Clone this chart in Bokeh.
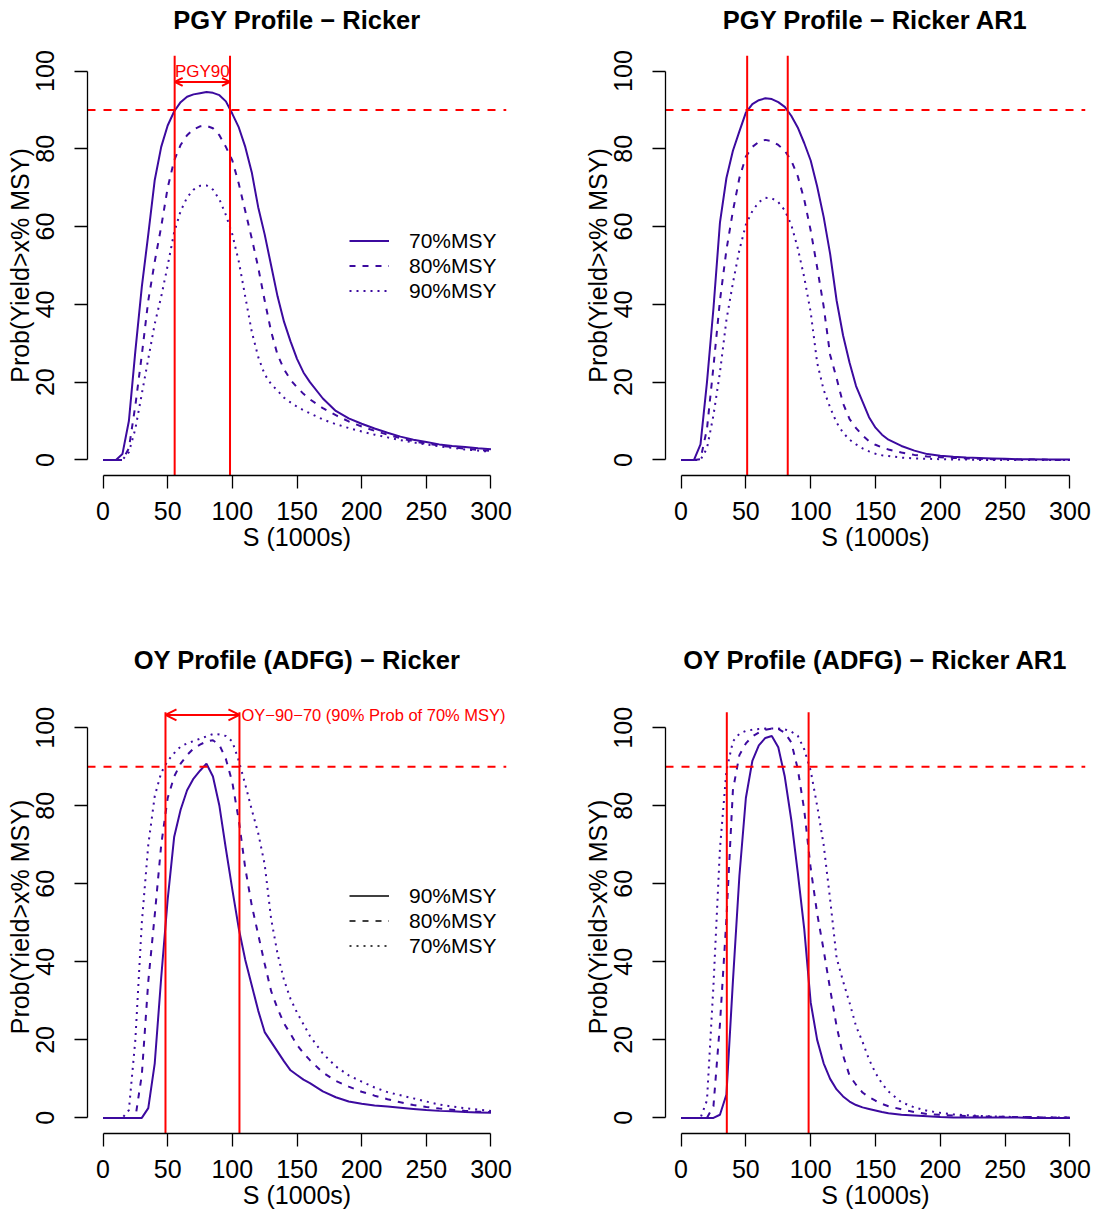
from bokeh.plotting import figure
from bokeh.models import Range1d, Label, Arrow, OpenHead, Legend, LegendItem, FixedTicker, Title
from bokeh.layouts import gridplot
from bokeh.embed import file_html
from bokeh.resources import INLINE

# ---------------- data ----------------
S_grid = [0, 5, 10, 15, 20, 25, 30, 35, 40, 45, 50, 55, 60, 65, 70, 75, 80, 85, 90, 95,
          100, 105, 110, 115, 120, 125, 130, 135, 140, 145, 150, 155, 160,
          170, 180, 190, 200, 210, 220, 230, 240, 250, 260, 270, 280, 290, 300]
x_ticks = [0, 50, 100, 150, 200, 250, 300]
y_ticks = [0, 20, 40, 60, 80, 100]

# PGY Profile - Ricker
pgy_ricker_70 = [0, 0, 0, 1.5, 10, 28, 44.5, 58, 72, 80.5, 86, 89.6, 92, 93.4, 94, 94.3, 94.6, 94.4, 93.8, 92.2,
                 89, 85.5, 80.5, 74, 65, 58, 50, 42, 35.5, 30.5, 26, 22.5, 20,
                 15.8, 12.6, 10.7, 9.3, 8.1, 7, 6, 5.2, 4.6, 4, 3.6, 3.3, 3, 2.75]
pgy_ricker_80 = [0, 0, 0, 0, 3, 14, 27, 41, 51, 60, 70, 77, 81, 83.5, 85, 85.8, 85.9, 85.3, 83.5, 80.5,
                 77, 71, 64, 57, 49.5, 41, 33, 27, 23.3, 20.6, 18.7, 17, 15.6,
                 13.3, 11.5, 9.9, 8.6, 7.5, 6.5, 5.6, 4.8, 4.2, 3.7, 3.3, 2.9, 2.6, 2.3]
pgy_ricker_90 = [0, 0, 0, 0, 2, 8, 17, 26, 35, 42, 50, 58.5, 64, 67.5, 69.5, 70.5, 70.6, 69.5, 67, 63,
                 58, 51, 42, 33, 26.5, 22, 19.5, 17.8, 16, 14.8, 13.7, 12.8, 12,
                 10.4, 9.2, 8.2, 7.3, 6.5, 5.8, 5.1, 4.5, 4, 3.5, 3.1, 2.7, 2.4, 2.1]

# PGY Profile - Ricker AR1
pgy_ar1_70 = [0, 0, 0, 4, 20, 39, 61, 72.5, 79.5, 84.5, 89.3, 91.5, 92.5, 93, 92.8, 92, 90.8, 88.5, 85.5, 81.5,
              77, 70.3, 62.5, 53, 41, 32, 25, 19, 15, 11, 8.3, 6.5, 5.2,
              3.6, 2.4, 1.5, 1.1, 0.8, 0.6, 0.5, 0.4, 0.3, 0.2, 0.2, 0.1, 0.1, 0.1]
pgy_ar1_80 = [0, 0, 0, 0.2, 8, 24, 41, 54, 64, 72.5, 78, 80.5, 81.8, 82.3, 82, 81, 79.5, 77, 73, 67,
              59, 49.5, 39.5, 27, 21, 14.5, 10.5, 8.2, 6.3, 4.8, 3.9, 3.2, 2.7,
              1.9, 1.3, 0.9, 0.7, 0.5, 0.4, 0.3, 0.2, 0.2, 0.1, 0.1, 0.1, 0, 0]
pgy_ar1_90 = [0, 0, 0, 0, 3, 11.5, 22.5, 36, 45.5, 54, 60.5, 64, 66.3, 67.4, 67.3, 66.3, 64.2, 60.5, 54.5, 47,
              38, 25, 18, 13.5, 9.6, 7, 5.2, 4, 3, 2.2, 1.6, 1.2, 1,
              0.6, 0.4, 0.3, 0.2, 0.1, 0.1, 0, 0, 0, 0, 0, 0, 0, 0]

# OY Profile (ADFG) - Ricker
oy_ricker_90 = [0, 0, 0, 0, 0, 0, 0, 2.5, 14, 36, 56, 72, 79, 84, 87, 89, 90.8, 87.5, 80, 69,
                58.5, 48.5, 40.5, 34, 27.5, 22, 19.5, 17, 14.5, 12.2, 11, 9.8, 8.9,
                6.8, 5.3, 4.2, 3.6, 3.2, 2.9, 2.6, 2.3, 2, 1.8, 1.7, 1.5, 1.4, 1.3]
oy_ricker_80 = [0, 0, 0, 0, 0, 0, 11, 35, 52, 70, 82, 87.5, 90.8, 93, 94.7, 95.7, 96.5, 96.8, 95.6, 92,
                86, 76.3, 64, 54.5, 47, 39.5, 32.5, 28, 24.2, 21.5, 18.7, 16.6, 14.8,
                11.6, 9.5, 8, 6.7, 5.7, 4.8, 4, 3.3, 2.8, 2.4, 2.1, 1.8, 1.6, 1.5]
oy_ricker_70 = [0, 0, 0, 0, 2, 20, 50, 70, 82.5, 88.5, 91.5, 93.5, 95.2, 96, 96.6, 97.2, 97.8, 98.4, 98.3, 97.9,
                96.5, 91.5, 85.5, 79, 73, 65, 51, 42, 35.3, 30.5, 27, 24, 21,
                16.5, 13.2, 10.9, 9.3, 7.8, 6.6, 5.8, 5, 4.2, 3.4, 2.9, 2.5, 2.1, 1.8]

# OY Profile (ADFG) - Ricker AR1
oy_ar1_90 = [0, 0, 0, 0, 0, 0, 0.8, 6, 35, 62, 82, 91.5, 95.5, 97.4, 97.9, 95, 87.5, 76.5, 63, 48.5,
             29.6, 20, 14, 10, 7.3, 5.5, 4.2, 3.3, 2.7, 2.3, 1.9, 1.5, 1.2,
             0.8, 0.6, 0.4, 0.2, 0.1, 0.1, 0.1, 0.1, 0.1, 0.1, 0, 0, 0, 0]
oy_ar1_80 = [0, 0, 0, 0, 0, 3, 24, 51, 84, 93, 96, 97.8, 98.8, 99.5, 99.8, 99.7, 98.7, 96.3, 89.5, 79,
             64, 52.4, 43, 33, 23.5, 16, 10.8, 8.5, 6.5, 5.3, 4.4, 3.6, 3,
             2.2, 1.5, 1, 0.8, 0.6, 0.5, 0.4, 0.3, 0.3, 0.2, 0.2, 0.1, 0.1, 0.1]
oy_ar1_70 = [0, 0, 0, 0, 4.5, 34, 69, 89, 96.5, 98.5, 99.2, 99.5, 99.7, 99.8, 99.8, 99.8, 99.6, 99, 98, 94.5,
             89, 80, 70, 56, 41, 35, 29.5, 23.5, 19.5, 15, 11.5, 8.8, 6.8,
             4, 2.7, 1.8, 1.3, 0.9, 0.7, 0.5, 0.4, 0.3, 0.2, 0.2, 0.1, 0.1, 0.1]

# reference lines (S values in 1000s) and probability threshold
pgy_ricker_bounds = [55.4, 98.2]
pgy_ar1_bounds = [51.0, 82.3]
oy_ricker_bounds = [48.3, 105.5]
oy_ar1_bounds = [35.3, 98.4]
prob_threshold = 90

pgy_labels = ["70%MSY", "80%MSY", "90%MSY"]
oy_labels = ["90%MSY", "80%MSY", "70%MSY"]

# ---------------- styling ----------------
FONT = "Liberation Sans"
PURPLE = "#3C0A9F"
RED = "#FF0000"
DASHES = ["solid", "6 7", "2 5"]
X_LO, X_HI = -12, 312      # plot-region limits of the original device
Y_LO, Y_HI = -4, 104


def make_panel(title, series, bounds, w, h, bl, br, bt, bb, gap, y_top=Y_HI):
    p = figure(width=w, height=h, x_range=Range1d(X_LO, X_HI), y_range=Range1d(Y_LO, y_top),
               output_backend="svg", toolbar_location=None, title=None,
               min_border_left=bl, min_border_right=br, min_border_top=bt, min_border_bottom=bb,
               x_axis_label="S (1000s)", y_axis_label="Prob(Yield>x% MSY)")
    p.background_fill_color = "white"
    p.border_fill_color = "white"
    p.outline_line_color = None
    p.xgrid.visible = False
    p.ygrid.visible = False

    # spacer (closest to frame) then the real title
    p.add_layout(Title(text=" ", text_font_size="2px", standoff=gap), "above")
    p.add_layout(Title(text=title, align="center", text_font=FONT, text_font_size="25.5px",
                       text_font_style="bold", text_color="black", standoff=0), "above")

    for ax, ticks, bnd in ((p.xaxis[0], x_ticks, (0, 300)), (p.yaxis[0], y_ticks, (0, 100))):
        ax.ticker = FixedTicker(ticks=ticks)
        ax.bounds = bnd
        ax.axis_line_color = "black"
        ax.axis_line_width = 1.3
        ax.major_tick_line_color = "black"
        ax.major_tick_line_width = 1.3
        ax.major_tick_in = 0
        ax.major_tick_out = 13
        ax.minor_tick_line_color = None
        ax.major_label_text_font = FONT
        ax.major_label_text_font_size = "25px"
        ax.major_label_text_color = "black"
        ax.axis_label_text_font = FONT
        ax.axis_label_text_font_size = "25px"
        ax.axis_label_text_font_style = "normal"
        ax.axis_label_text_color = "black"

    p.xaxis[0].major_label_standoff = 13
    p.xaxis[0].axis_label_standoff = 0
    p.yaxis[0].major_label_orientation = "vertical"
    p.yaxis[0].major_label_standoff = 20
    p.yaxis[0].axis_label_standoff = 0

    renderers = []
    for vals, dash in zip(series, DASHES):
        r = p.line(S_grid, vals, line_color=PURPLE, line_width=2, line_dash=dash)
        renderers.append(r)

    # abline(h=90, lty=2) and abline(v=...) limited to the original plot region
    p.segment(x0=[X_LO], y0=[prob_threshold], x1=[X_HI], y1=[prob_threshold],
              line_color=RED, line_width=2, line_dash="8 8")
    p.segment(x0=bounds, y0=[Y_LO] * len(bounds), x1=bounds, y1=[Y_HI] * len(bounds),
              line_color=RED, line_width=2)
    return p, renderers


def add_legend(p, renderers, labels, vy):
    leg = Legend(items=[LegendItem(label=l, renderers=[r]) for l, r in zip(labels, renderers)],
                 location=(262, vy), orientation="vertical",
                 glyph_width=40, glyph_height=25, label_height=25, label_standoff=20,
                 spacing=0, padding=0, margin=0, click_policy="none",
                 border_line_color=None, background_fill_alpha=0,
                 label_text_font=FONT, label_text_font_size="21px", label_text_color="black")
    p.add_layout(leg)


# top-left
p1, r1 = make_panel("PGY Profile \u2212 Ricker", [pgy_ricker_70, pgy_ricker_80, pgy_ricker_90],
                    pgy_ricker_bounds, 548, 604, 87, 42, 55, 129, 18)
add_legend(p1, r1, pgy_labels, 172)
mid = (pgy_ricker_bounds[0] + pgy_ricker_bounds[1]) / 2
p1.add_layout(Arrow(start=OpenHead(size=8, line_color=RED, line_width=2),
                    end=OpenHead(size=8, line_color=RED, line_width=2),
                    x_start=pgy_ricker_bounds[0], y_start=97.2,
                    x_end=pgy_ricker_bounds[1], y_end=97.2,
                    line_color=RED, line_width=2))
p1.add_layout(Label(x=mid, y=100, text="PGY90", text_align="center", text_baseline="middle",
                    text_font=FONT, text_font_size="17px", text_color=RED))

# top-right
p2, r2 = make_panel("PGY Profile \u2212 Ricker AR1", [pgy_ar1_70, pgy_ar1_80, pgy_ar1_90],
                    pgy_ar1_bounds, 548, 604, 117, 11, 55, 129, 18)

# bottom row: frame extended 3 units upward so the annotation above the region is not clipped
p3, r3 = make_panel("OY Profile (ADFG) \u2212 Ricker", [oy_ricker_90, oy_ricker_80, oy_ricker_70],
                    oy_ricker_bounds, 548, 607, 87, 42, 96, 78, 23, y_top=107)
legend_r = []
for vals, dash in zip([oy_ricker_90, oy_ricker_80, oy_ricker_70], DASHES):
    lr = p3.line(S_grid, vals, line_color="black", line_width=1.3, line_dash=dash)
    lr.visible = False
    legend_r.append(lr)
add_legend(p3, legend_r, oy_labels, 175)
p3.add_layout(Arrow(start=OpenHead(size=11, line_color=RED, line_width=2),
                    end=OpenHead(size=11, line_color=RED, line_width=2),
                    x_start=oy_ricker_bounds[0], y_start=103.3,
                    x_end=oy_ricker_bounds[1], y_end=103.3,
                    line_color=RED, line_width=2))
p3.add_layout(Label(x=oy_ricker_bounds[1], y=103.3, x_offset=2,
                    text="OY\u221290\u221270 (90% Prob of 70% MSY)",
                    text_align="left", text_baseline="middle",
                    text_font=FONT, text_font_size="16.5px", text_color=RED))

# bottom-right
p4, r4 = make_panel("OY Profile (ADFG) \u2212 Ricker AR1", [oy_ar1_90, oy_ar1_80, oy_ar1_70],
                    oy_ar1_bounds, 548, 607, 117, 11, 96, 78, 23, y_top=107)

grid = gridplot([[p1, p2], [p3, p4]], toolbar_location=None)
open("out.html", "w").write(file_html(grid, INLINE))
